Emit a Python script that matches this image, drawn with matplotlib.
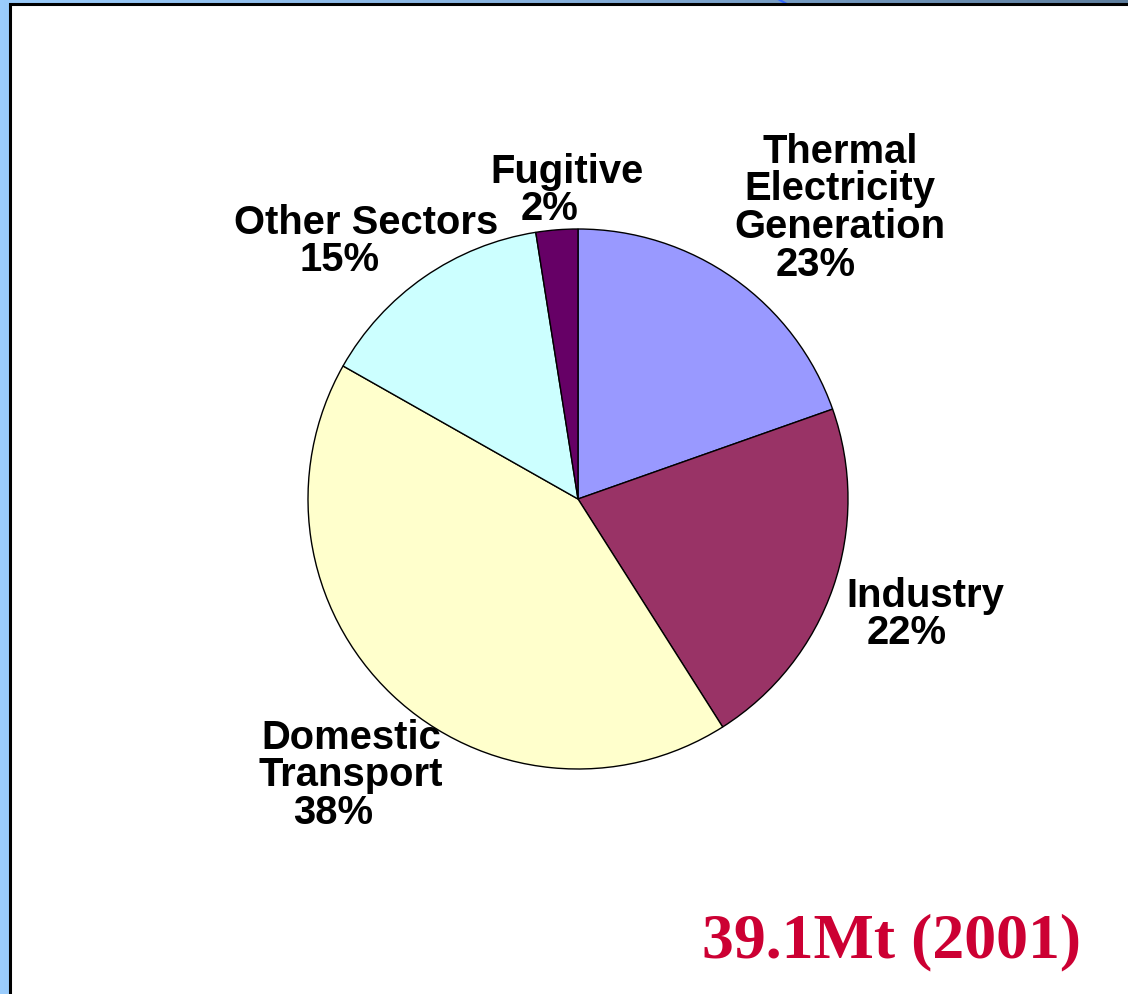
import numpy as np
import matplotlib
matplotlib.use("Agg")
import matplotlib.pyplot as plt
from matplotlib.patches import Rectangle
from matplotlib.colors import LinearSegmentedColormap

# ---- data ----
categories = ["Thermal\nElectricity\nGeneration", "Industry", "Domestic\nTransport",
              "Other Sectors", "Fugitive"]
values = [19.6, 21.4, 42.2, 14.3, 2.5]          # slice sizes as drawn
pct_labels = ["23%", "22%", "38%", "15%", "2%"]  # printed percentages
colors = ["#9999FF", "#993366", "#FFFFCC", "#CCFFFF", "#660066"]
total_label = "39.1Mt (2001)"

W, H = 1128, 995
fig = plt.figure(figsize=(W / 100, H / 100), dpi=100)

# background gradient
bg = fig.add_axes([0, 0, 1, 1])
grad = np.linspace(0, 1, 256).reshape(1, -1)
cmap = LinearSegmentedColormap.from_list("bg", ["#9ACCFC", "#86B0DC", "#5E7E9E"])
bg.imshow(grad, aspect="auto", cmap=cmap, extent=[0, W, 0, H])
bg.set_xlim(0, W)
bg.set_ylim(H, 0)
bg.axis("off")
# white panel with black border
bg.add_patch(Rectangle((10, 5), W + 20, H + 20, facecolor="white",
                       edgecolor="black", linewidth=2.2, zorder=2))
bg.plot([778, 786], [0, 4.5], color="#3366FF", lw=1.5, zorder=1)

# pie
cx, cy, r = 578, 500, 270
ax = fig.add_axes([(cx - r) / W, (H - cy - r) / H, 2 * r / W, 2 * r / H])
ax.pie(values, colors=colors, startangle=90, counterclock=False, radius=1,
       wedgeprops=dict(edgecolor="black", linewidth=1.0))
ax.set_xlim(-1, 1)
ax.set_ylim(-1, 1)
ax.axis("off")

# label layout (pixel positions): name block centre x, first line centre y, pct centre x
name_pos = [(840, 152), (925, 596), (351, 738), (366, 223), (567, 172)]
pct_x = [816, 907, 333, 340, 550]
line_h = 37.5
font = dict(family=["Liberation Sans", "DejaVu Sans"], weight="bold",
            size=28.8, color="black")

def px(x, y):
    return x / W, 1 - y / H

for cat, pct, (nx, ny), qx in zip(categories, pct_labels, name_pos, pct_x):
    lines = cat.split("\n")
    for i, ln in enumerate(lines):
        fig.text(*px(nx, ny + i * line_h), ln, ha="center", va="center", **font)
    fig.text(*px(qx, ny + len(lines) * line_h), pct, ha="center", va="center", **font)

fig.text(*px(891, 957), total_label, ha="center", va="baseline",
         family=["Liberation Serif", "DejaVu Serif"], weight="bold",
         size=46, color="#CC0033")

fig.savefig("out.png", dpi=100)
